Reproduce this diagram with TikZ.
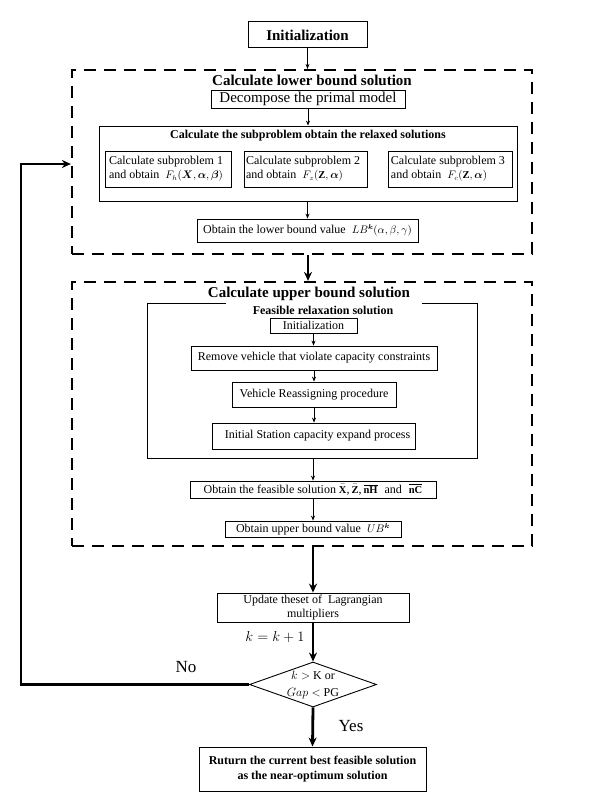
\documentclass[tikz,border=0pt]{standalone}
\usepackage{amsmath}
\usepackage{bm}
\usepackage{fontspec}
\setmainfont{Liberation Serif}
\usetikzlibrary{arrows.meta,shapes.geometric,calc}
\newcommand{\smallmath}[1]{{\fontsize{10.5}{12}\selectfont$#1$}}
\begin{document}
\begin{tikzpicture}[x=1pt,y=-1pt,
  box/.style={draw,line width=0.8pt,inner sep=0pt,align=center},
  dframe/.style={draw,line width=2.2pt,dash pattern=on 12pt off 8pt,inner sep=0pt},
  tarrow/.style={-{Stealth[length=5pt,width=4pt]},line width=0.8pt},
  karrow/.style={-{Stealth[length=9pt,width=8pt]},line width=2.8pt},
  ttl/.style={font=\fontsize{15}{18}\selectfont\bfseries,inner sep=0pt},
  sttl/.style={font=\fontsize{12}{14}\selectfont\bfseries,inner sep=0pt},
  txt/.style={font=\fontsize{12}{14}\selectfont},
  spbox/.style={box,txt,minimum height=36,align=left},
]
\useasboundingbox (0,0) rectangle (595,805);
\fill[white] (0,0) rectangle (595,805);

% top
\node[box,line width=1pt,minimum width=119,minimum height=26,ttl] (init) at (307.5,35) {Initialization};

% lower bound frame
\node[dframe,minimum width=460,minimum height=184] (lbf) at (302,162) {};
\node[ttl] (lbt) at (312,80) {Calculate lower bound solution};
\node[box,minimum width=194,minimum height=18,font=\fontsize{15}{18}\selectfont] (dec) at (308,99) {Decompose the primal model};
\node[box,minimum width=418,minimum height=75] (sub) at (308,163.5) {};
\node[sttl] (subt) at (308,136) {Calculate the subproblem obtain the relaxed solutions};
\node[spbox,minimum width=126] (sp1) at (168,169) {Calculate subproblem 1\hspace*{4pt}\\and obtain~ \smallmath{F_h(\bm{X},\bm{\alpha},\bm{\beta})}};
\node[spbox,minimum width=123] (sp2) at (305.5,169) {Calculate subproblem 2\\and obtain~ \smallmath{F_z(\mathbf{Z},\bm{\alpha})}\hspace*{22pt}};
\node[spbox,minimum width=124] (sp3) at (450,169) {Calculate subproblem 3\\and obtain~ \smallmath{F_c(\mathbf{Z},\bm{\alpha})}\hspace*{22pt}};
\node[box,txt,minimum width=221,minimum height=23] (lb) at (307.5,230.5) {Obtain the lower bound value~ \smallmath{LB^{\bm k}(\alpha,\beta,\gamma)}};

% upper bound frame
\node[dframe,minimum width=460,minimum height=264] (ubf) at (302,414) {};
\node[ttl] (ubt) at (309,294) {Calculate upper bound solution};
\node[minimum width=329,minimum height=154,inner sep=0pt] (feas) at (312.5,381) {};
\draw[line width=0.8pt] ($(feas.north west)+(78,0)$) -- (feas.north west) -- (feas.south west) -- (feas.south east) -- (feas.north east) -- ($(feas.north east)+(-55,0)$);
\node[sttl] (feast) at (323,310) {Feasible relaxation solution};
\node[box,txt,minimum width=87,minimum height=15] (in2) at (313.5,325.5) {Initialization};
\node[box,txt,minimum width=246,minimum height=24] (rem) at (314,358) {Remove vehicle that violate capacity constraints};
\node[box,txt,minimum width=164,minimum height=25] (vra) at (314,394.5) {Vehicle Reassigning procedure};
\node[box,txt,minimum width=203,minimum height=26] (isc) at (313.5,436) {\hspace*{8pt}Initial Station capacity expand process};
\node[box,txt,minimum width=246,minimum height=17] (fsol) at (313,489.5) {Obtain the feasible solution \smallmath{\bar{\mathbf X}},\hspace{2pt}\smallmath{\bar{\mathbf Z}},\hspace{2pt}\smallmath{\overline{\mathbf{nH}}}\hspace{7pt}and\hspace{7pt}\smallmath{\overline{\mathbf{nC}}}};
\node[box,txt,minimum width=176,minimum height=16] (ub) at (313,529) {Obtain upper bound value~ \smallmath{UB^{\bm k}}};

% bottom
\node[box,minimum width=192,minimum height=29,font=\fontsize{12}{14.5}\selectfont] (upd) at (313,607.5) {Update theset of~ Lagrangian\\multipliers};
\node[font=\fontsize{14}{16}\selectfont,inner sep=0pt] (kk) at (275,637.5) {$k=k+1$};
\node[diamond,draw,line width=0.9pt,minimum width=127,minimum height=45,inner sep=0pt] (dia) at (313,684.5) {};
\node[font=\fontsize{12}{17}\selectfont,align=center,inner sep=0pt] (diat) at (dia.center) {$k>$ K or\\$Gap<$ PG};
\node[font=\fontsize{17}{20}\selectfont,inner sep=0pt] (no) at (186,667) {No};
\node[font=\fontsize{17}{20}\selectfont,inner sep=0pt] (yes) at (351,726) {Yes};
\node[box,line width=1pt,minimum width=227,minimum height=44,font=\fontsize{12}{15}\selectfont\bfseries] (ret) at (312.5,769) {Ruturn the current best feasible solution\\as the near-optimum solution};

% connectors
\draw[tarrow] (init.south) -- (init.south |- lbf.north);
\draw[tarrow] (dec.south) -- (dec.south |- sub.north);
\draw[tarrow] (lb.north |- sub.south) -- (lb.north);
\draw[karrow] ($(lbf.south)+(6,0)$) -- ($(ubf.north)+(6,0)$);
\draw[tarrow] (in2.south) -- (in2.south |- rem.north);
\draw[tarrow] (rem.south) -- (rem.south |- vra.north);
\draw[tarrow] (vra.south) -- (vra.south |- isc.north);
\draw[tarrow] (fsol.north |- feas.south) -- (fsol.north);
\draw[tarrow] (fsol.south) -- (fsol.south |- ub.north);
\draw[karrow] (upd.north |- ubf.south) -- (upd.north);
\draw[karrow] (upd.south) -- (dia.north);
\draw[karrow] (dia.south) -- (ret.north);
\coordinate (fb) at (21,164);
\draw[karrow] (dia.west) -| (fb) -- (lbf.west |- fb);
\end{tikzpicture}
\end{document}
